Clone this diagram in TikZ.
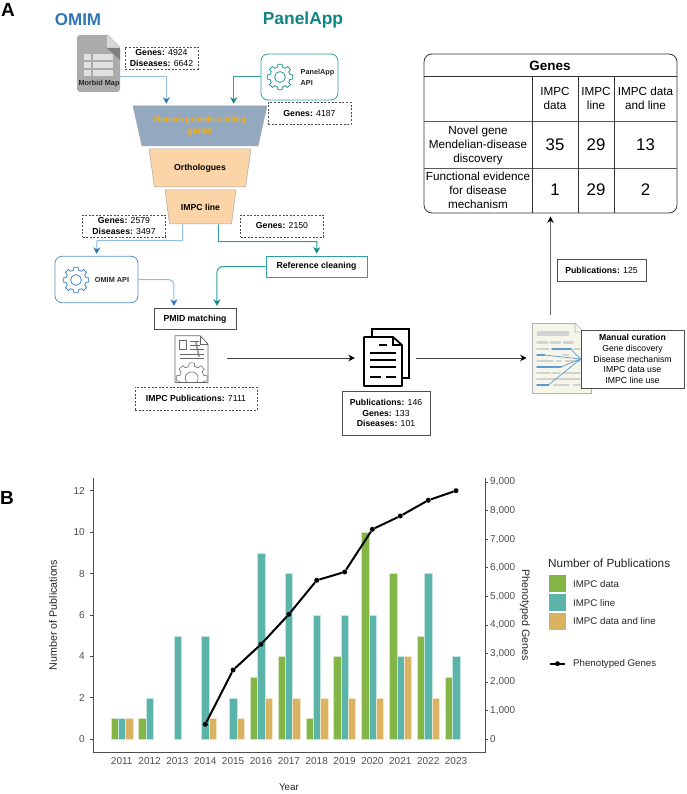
\documentclass[tikz,border=0pt]{standalone}
\usepackage{fontspec}
\setmainfont{Liberation Sans}
\usetikzlibrary{arrows.meta,shapes.geometric}

\definecolor{omimblue}{HTML}{2E75B6}
\definecolor{omimlight}{HTML}{8FBDE3}
\definecolor{panelteal}{HTML}{0E8686}
\definecolor{panellight}{HTML}{2F9E9E}
\definecolor{funnelblue}{HTML}{94A8C0}
\definecolor{funnelpeach}{HTML}{FBD4A8}
\definecolor{funneltext}{HTML}{F2B21B}
\definecolor{morbidgray}{HTML}{ABABAB}
\definecolor{bargreen}{HTML}{84B547}
\definecolor{barteal}{HTML}{5AB4AA}
\definecolor{bartan}{HTML}{D9B262}
\definecolor{axisgray}{HTML}{4D4D4D}
\definecolor{paper}{HTML}{F6F5E9}
\definecolor{rowgray}{HTML}{D2D2D2}
\definecolor{rowblue}{HTML}{5B9BD0}

\tikzset{
  small/.style={font=\fontsize{8.7}{10.7}\selectfont, align=center, inner sep=0},
  tiny/.style={font=\fontsize{7.3}{10.7}\selectfont\bfseries, align=left, inner sep=0},
  countbox/.style={small, draw=axisgray, line width=0.7, dash pattern=on 2pt off 1.6pt},
  infobox/.style={small, draw=axisgray, line width=0.9, fill=white},
  apibox/.style={draw, line width=0.8, rounded corners=7, inner sep=0},
  funnel/.style={small, trapezium, trapezium stretches=true, shape border rotate=180, draw=black!35, line width=0.5, font=\fontsize{8.7}{10.7}\selectfont\bfseries},
  omimarrow/.style={draw=omimlight, line width=1, -{Stealth[length=6.5pt,width=7pt,color=omimblue]}, shorten >=2pt},
  panelarrow/.style={draw=panellight, line width=1, -{Stealth[length=6.5pt,width=7pt,color=panelteal]}, shorten >=2pt},
  flowarrow/.style={draw=black!75, line width=0.9, -{Stealth[length=6.5pt,width=6.5pt,color=black]}},
  iconspace/.style={inner sep=0},
  headtext/.style={font=\fontsize{11.7}{14}\selectfont, align=center, inner sep=0},
  bigtext/.style={font=\fontsize{16.8}{18}\selectfont, inner sep=0},
  ticktext/.style={font=\fontsize{10}{12}\selectfont, text=axisgray, inner sep=0},
  axistext/.style={font=\fontsize{10.7}{12}\selectfont, text=black!85, inner sep=0},
  legendtext/.style={font=\fontsize{9.7}{12}\selectfont, text=black!85, inner sep=0, anchor=west},
  axisline/.style={draw=axisgray, line width=1},
  bar1/.style={fill=bargreen, draw=bargreen!35!white, line width=0.3},
  bar2/.style={fill=barteal, draw=barteal!35!white, line width=0.3},
  bar3/.style={fill=bartan, draw=bartan!35!white, line width=0.3},
  swatch/.style={minimum width=17, minimum height=17.5, inner sep=0},
  genedot/.style={circle, fill=black, inner sep=0, minimum size=5},
  geneline/.style={draw=black, line width=2},
  rowline/.style={draw=rowgray, line width=2.5, line cap=round},
  rowlink/.style={draw=rowblue, line width=2.5, line cap=round},
  gearicon/.pic={
    \foreach \a in {0,45,...,315} {
      \draw[line join=round] (\a-14:10.2) -- (\a-9:13) -- (\a+9:13) -- (\a+14:10.2) -- (\a+31:10.2);
    }
    \draw (0,0) circle (5.4);
  }
}

\begin{document}
\begin{tikzpicture}[x=1pt, y=-1pt]
    \useasboundingbox (0, 0) rectangle (686, 794);

    \node [font=\fontsize{19}{20}\selectfont\bfseries, inner sep=0] (panela) at (8, 10) {A};
    \node [font=\fontsize{17}{18}\selectfont\bfseries, text=omimblue, inner sep=0] (omim) at (78, 19.5) {OMIM};
    \node [font=\fontsize{17.4}{18}\selectfont\bfseries, text=panelteal, inner sep=0] (panel) at (303, 20) {PanelApp};

    \node [fill=morbidgray, rounded corners=3, minimum width=43, minimum height=57, inner sep=0] (morbid) at (98.5, 63.5) {};
    \fill[white] (107, 34) -- (121, 34) -- (121, 48) -- cycle;
    \fill[black!15] (107, 35) -- (120, 48) -- (107, 48) -- cycle;
    \fill[black!50] (107, 48) -- (120, 48) -- (120, 60) -- cycle;
    \fill[black!12] (84, 54.5) rectangle (91, 60);
    \fill[black!12] (93, 54.5) rectangle (112.5, 60);
    \fill[black!12] (84, 62) rectangle (91, 68);
    \fill[black!12] (93, 62) rectangle (112.5, 68);
    \fill[black!12] (84, 70) rectangle (91, 76);
    \fill[black!12] (93, 70) rectangle (112.5, 76);
    \node [tiny, text=black!85] (morbidtext) at (99, 84) {Morbid Map};

    \node [countbox, minimum width=73, minimum height=22] (count1) at (161.5, 58) {\textbf{Genes:} 4924\\\textbf{Diseases:} 6642};

    \node [apibox, draw=panellight, minimum width=77, minimum height=46] (panelapi) at (299.5, 77) {};
    \pic [color=panelteal, line width=0.7] (gear1) at (280, 77) {gearicon};
    \node [tiny, text=black!85, anchor=west] (panelapitext) at (300.5, 77.5) {PanelApp\\API};
    \node [countbox, minimum width=83, minimum height=22] (count2) at (309.5, 113.5) {\textbf{Genes:} 4187};

    \node [funnel, fill=funnelblue, text=funneltext, minimum width=134, minimum height=40, trapezium angle=69.4] (human) at (200, 126) {Human protein coding\\genes};
    \node [funnel, fill=funnelpeach, minimum width=102, minimum height=38, trapezium angle=69.8] (ortho) at (200, 168) {Orthologues};
    \node [funnel, fill=funnelpeach, minimum width=71, minimum height=34, trapezium angle=66.2] (impc) at (200.5, 207) {IMPC line};

    \draw[omimarrow] (morbid.-31) -| (human.149);
    \draw[panelarrow] (panelapi.west) -| (human.31);

    \node [countbox, minimum width=83, minimum height=22] (count3) at (124, 226) {\textbf{Genes:} 2579\\\textbf{Diseases:} 3497};
    \node [countbox, minimum width=83, minimum height=22] (count4) at (282, 226) {\textbf{Genes:} 2150};

    \node [apibox, draw=omimblue!80, minimum width=83, minimum height=46.5] (omimapi) at (96.5, 279.5) {};
    \pic [color=omimblue, line width=0.7] (gear2) at (76, 280) {gearicon};
    \node [tiny, text=black!85] (omimapitext) at (112, 280) {OMIM API};

    \node [small, draw=panellight, line width=0.9, font=\fontsize{8.7}{10.7}\selectfont\bfseries, minimum width=101, minimum height=21] (cleaning) at (316.5, 266.5) {Reference cleaning};
    \node [small, draw=axisgray, line width=0.9, font=\fontsize{8.7}{10.7}\selectfont\bfseries, minimum width=82, minimum height=21.5] (pmid) at (195, 319) {PMID matching};

    \coordinate (bend1) at (97, 240.5);
    \coordinate (bend2) at (317, 241.5);
    \draw[omimarrow] (impc.-136) |- (bend1) -- (omimapi.north);
    \draw[panelarrow] (impc.-44) |- (bend2) -- (cleaning.north);
    \draw[omimarrow, rounded corners=6] (omimapi.east) -| (pmid.152);
    \draw[panelarrow, rounded corners=6] (cleaning.west) -| (pmid.27);

    \node [iconspace, minimum width=33, minimum height=48] (impcdoc) at (191.5, 358) {};
    \begin{scope}
      \clip (175, 335.7) -- (200, 335.7) -- (208, 344) -- (208, 382.5) -- (175, 382.5) -- cycle;
      \draw[black!35, line width=2] (196, 342) -- (199, 357);
      \draw[black!60, line width=0.6] (179.5, 354) -- (204, 354);
      \draw[black!60, line width=0.6] (179.5, 358) -- (204, 358);
      \pic [color=black!60, line width=0.6, scale=1.2] (gear3) at (191.7, 378.3) {gearicon};
    \end{scope}
    \draw[black!60, line width=0.8] (175, 335.7) -- (200, 335.7) -- (208, 344) -- (208, 382.5) -- (175, 382.5) -- cycle;
    \draw[black!60, line width=0.6] (200, 335.7) -- (200, 344) -- (208, 344);
    \draw[black!60, line width=0.6] (179.5, 340.7) rectangle (186, 349);
    \draw[black!60, line width=0.6] (190, 341.7) -- (199, 341.7);
    \draw[black!60, line width=0.6] (190, 345) -- (200, 345);
    \draw[black!60, line width=0.6] (190, 349.3) -- (204, 349.3);
    \node [countbox, minimum width=122, minimum height=23] (count5) at (196, 398.5) {\textbf{IMPC Publications:} 7111};

    \node [iconspace, minimum width=45, minimum height=58] (docs) at (386.5, 358) {};
    \draw[black, line width=1.8] (372, 337) -- (372, 329) -- (409, 329) -- (409, 378) -- (402, 378);
    \draw[black, line width=1.8, fill=white, line join=round] (364, 337) -- (393, 337) -- (402, 345) -- (402, 386) -- (364, 386) -- cycle;
    \draw[black, line width=1.4] (393, 337) -- (393, 345) -- (402, 345);
    \draw[black, line width=1.8] (379, 345) -- (387, 345);
    \draw[black, line width=1.8] (370, 353) -- (396, 353);
    \draw[black, line width=1.8] (370, 360) -- (396, 360);
    \draw[black, line width=1.8] (370, 367) -- (396, 367);
    \draw[black, line width=1.8] (370, 377) -- (381, 377);
    \draw[black, line width=1.8] (386, 377) -- (396, 377);
    \node [infobox, minimum width=88, minimum height=44] (count6) at (386, 413) {\textbf{Publications:} 146\\\textbf{Genes:} 133\\\textbf{Diseases:} 101};

    \node [draw=black!30, fill=paper, line width=0.6, minimum width=59, minimum height=70, inner sep=0] (curdoc) at (561.5, 358) {};
    \fill[white] (575, 322.5) -- (592, 322.5) -- (592, 340) -- cycle;
    \draw[black!30, line width=0.6] (575, 323) -- (575, 332) -- (584, 332) -- cycle;
    \draw[rowgray, line width=4.5] (537.3, 333.7) -- (568.7, 333.7);
    \draw[rowline] (537.3, 342.7) -- (547.3, 342.7);
    \draw[rowline] (550.7, 342.7) -- (560, 342.7);
    \draw[rowline] (564, 342.7) -- (572.7, 342.7);
    \draw[rowline] (537.3, 349) -- (548.3, 349);
    \draw[rowline] (574, 349) -- (580, 349);
    \draw[rowline] (563.3, 355) -- (568.3, 355);
    \draw[rowline] (537.3, 361) -- (552.7, 361);
    \draw[rowline] (556.7, 361) -- (560.7, 361);
    \draw[rowline] (566, 361) -- (580, 361);
    \draw[rowline] (537.3, 373) -- (550, 373);
    \draw[rowline] (552.7, 373) -- (560, 373);
    \draw[rowline] (563.3, 373) -- (580, 373);
    \draw[rowline] (537.3, 379) -- (580, 379);
    \draw[rowline] (554, 385) -- (568.3, 385);
    \draw[rowline] (574, 385) -- (580, 385);
    \draw[rowlink] (552.3, 349) -- (570.7, 349);
    \draw[rowlink] (537.3, 355) -- (544.3, 355);
    \draw[rowlink] (537.3, 367) -- (560.7, 367);
    \draw[rowlink] (537.3, 385) -- (548.3, 385);
    \node [infobox, minimum width=103, minimum height=58] (curation) at (632.5, 359) {\textbf{Manual curation}\\Gene discovery\\Disease mechanism\\IMPC data use\\IMPC line use};
    \draw[rowblue, line width=0.7] (570.7, 349) -- (curation.west);
    \draw[rowblue, line width=0.7] (544.3, 355) -- (curation.west);
    \draw[rowblue, line width=0.7] (560.7, 367) -- (curation.west);
    \draw[rowblue, line width=0.7] (548.3, 385) -- (curation.west);

    \draw[flowarrow, shorten <=19pt, shorten >=9pt] (impcdoc.east) -- (docs.west);
    \draw[flowarrow, shorten <=7pt, shorten >=5pt] (docs.east) -- (curdoc.west);

    \node [draw=black!80, line width=0.8, rounded corners=8, minimum width=253, minimum height=159, inner sep=0] (genes) at (550.5, 133.5) {};
    \draw[flowarrow, draw=black!60, shorten <=8pt, shorten >=3pt] (genes.south |- curdoc.north) -- (genes.south);
    \node [infobox, minimum width=89, minimum height=22] (count7) at (601.5, 270) {\textbf{Publications:} 125};

    \draw[black!80, line width=0.7] (424, 76) -- (677, 76);
    \draw[black!65, line width=0.7] (424, 121) -- (677, 121);
    \draw[black!65, line width=0.7] (424, 168) -- (677, 168);
    \draw[black!80, line width=0.7] (532, 76) -- (532, 213);
    \draw[black!80, line width=0.7] (578, 76) -- (578, 213);
    \draw[black!80, line width=0.7] (614, 76) -- (614, 213);
    \node [font=\fontsize{13.5}{14}\selectfont\bfseries, inner sep=0] (genestitle) at (550, 66) {Genes};
    \node [headtext] (head1) at (555, 98.5) {IMPC\\data};
    \node [headtext] (head2) at (596, 98.5) {IMPC\\line};
    \node [headtext] (head3) at (645.5, 98.5) {IMPC data\\and line};
    \node [headtext] (row1) at (478, 145) {Novel gene\\Mendelian-disease\\discovery};
    \node [headtext] (row2) at (478, 190) {Functional evidence\\for disease\\mechanism};
    \node [bigtext] (val11) at (555, 145) {35};
    \node [bigtext] (val12) at (596, 145) {29};
    \node [bigtext] (val13) at (645.5, 145) {13};
    \node [bigtext] (val21) at (555, 190) {1};
    \node [bigtext] (val22) at (596, 190) {29};
    \node [bigtext] (val23) at (645.5, 190) {2};

    \node [font=\fontsize{19}{20}\selectfont\bfseries, inner sep=0] (panelb) at (7, 498) {B};

    \begin{scope}[shift={(121.7, 739.3)}, x=27.86pt, y=20.72pt]
      \draw[bar1] (-0.393, 0) rectangle +(0.262, 1);
      \draw[bar2] (-0.131, 0) rectangle +(0.262, 1);
      \draw[bar3] (0.131, 0) rectangle +(0.262, 1);
      \draw[bar1] (0.607, 0) rectangle +(0.262, 1);
      \draw[bar2] (0.869, 0) rectangle +(0.262, 2);
      \draw[bar2] (1.869, 0) rectangle +(0.262, 5);
      \draw[bar2] (2.869, 0) rectangle +(0.262, 5);
      \draw[bar3] (3.131, 0) rectangle +(0.262, 1);
      \draw[bar2] (3.869, 0) rectangle +(0.262, 2);
      \draw[bar3] (4.131, 0) rectangle +(0.262, 1);
      \draw[bar1] (4.607, 0) rectangle +(0.262, 3);
      \draw[bar2] (4.869, 0) rectangle +(0.262, 9);
      \draw[bar3] (5.131, 0) rectangle +(0.262, 2);
      \draw[bar1] (5.607, 0) rectangle +(0.262, 4);
      \draw[bar2] (5.869, 0) rectangle +(0.262, 8);
      \draw[bar3] (6.131, 0) rectangle +(0.262, 2);
      \draw[bar1] (6.607, 0) rectangle +(0.262, 1);
      \draw[bar2] (6.869, 0) rectangle +(0.262, 6);
      \draw[bar3] (7.131, 0) rectangle +(0.262, 2);
      \draw[bar1] (7.607, 0) rectangle +(0.262, 4);
      \draw[bar2] (7.869, 0) rectangle +(0.262, 6);
      \draw[bar3] (8.131, 0) rectangle +(0.262, 2);
      \draw[bar1] (8.607, 0) rectangle +(0.262, 10);
      \draw[bar2] (8.869, 0) rectangle +(0.262, 6);
      \draw[bar3] (9.131, 0) rectangle +(0.262, 2);
      \draw[bar1] (9.607, 0) rectangle +(0.262, 8);
      \draw[bar2] (9.869, 0) rectangle +(0.262, 4);
      \draw[bar3] (10.131, 0) rectangle +(0.262, 4);
      \draw[bar1] (10.607, 0) rectangle +(0.262, 5);
      \draw[bar2] (10.869, 0) rectangle +(0.262, 8);
      \draw[bar3] (11.131, 0) rectangle +(0.262, 2);
      \draw[bar1] (11.607, 0) rectangle +(0.262, 3);
      \draw[bar2] (11.869, 0) rectangle +(0.262, 4);
    \end{scope}

    \draw[axisline] (93, 478) -- (93, 752) -- (485, 752) -- (485, 478);
    \draw[axisline] (89.5, 739.3) -- (93, 739.3) (89.5, 697.9) -- (93, 697.9) (89.5, 656.4) -- (93, 656.4) (89.5, 615) -- (93, 615) (89.5, 573.6) -- (93, 573.6) (89.5, 532.1) -- (93, 532.1) (89.5, 490.7) -- (93, 490.7);
    \draw[axisline] (485, 739.3) -- (488, 739.3) (485, 710.7) -- (488, 710.7) (485, 682.1) -- (488, 682.1) (485, 653.6) -- (488, 653.6) (485, 625) -- (488, 625) (485, 596.4) -- (488, 596.4) (485, 567.8) -- (488, 567.8) (485, 539.2) -- (488, 539.2) (485, 510.7) -- (488, 510.7) (485, 482.1) -- (488, 482.1);

    \node [ticktext, anchor=east] (l0) at (85, 739.3) {0};
    \node [ticktext, anchor=east] (l2) at (85, 697.9) {2};
    \node [ticktext, anchor=east] (l4) at (85, 656.4) {4};
    \node [ticktext, anchor=east] (l6) at (85, 615) {6};
    \node [ticktext, anchor=east] (l8) at (85, 573.6) {8};
    \node [ticktext, anchor=east] (l10) at (85, 532.1) {10};
    \node [ticktext, anchor=east] (l12) at (85, 490.7) {12};

    \node [ticktext, anchor=west] (r0) at (490, 739.3) {0};
    \node [ticktext, anchor=west] (r1) at (490, 710.7) {1,000};
    \node [ticktext, anchor=west] (r2) at (490, 682.1) {2,000};
    \node [ticktext, anchor=west] (r3) at (490, 653.6) {3,000};
    \node [ticktext, anchor=west] (r4) at (490, 625) {4,000};
    \node [ticktext, anchor=west] (r5) at (490, 596.4) {5,000};
    \node [ticktext, anchor=west] (r6) at (490, 567.8) {6,000};
    \node [ticktext, anchor=west] (r7) at (490, 539.2) {7,000};
    \node [ticktext, anchor=west] (r8) at (490, 510.7) {8,000};
    \node [ticktext, anchor=west] (r9) at (490, 482.1) {9,000};

    \node [ticktext] (x11) at (121.7, 761) {2011};
    \node [ticktext] (x12) at (149.6, 761) {2012};
    \node [ticktext] (x13) at (177.4, 761) {2013};
    \node [ticktext] (x14) at (205.3, 761) {2014};
    \node [ticktext] (x15) at (233.1, 761) {2015};
    \node [ticktext] (x16) at (261, 761) {2016};
    \node [ticktext] (x17) at (288.9, 761) {2017};
    \node [ticktext] (x18) at (316.7, 761) {2018};
    \node [ticktext] (x19) at (344.6, 761) {2019};
    \node [ticktext] (x20) at (372.4, 761) {2020};
    \node [ticktext] (x21) at (400.3, 761) {2021};
    \node [ticktext] (x22) at (428.2, 761) {2022};
    \node [ticktext] (x23) at (456, 761) {2023};

    \node [axistext, font=\fontsize{9.8}{12}\selectfont] (xtitle) at (289, 787.5) {Year};
    \node [axistext, rotate=90] (ytitle) at (53, 615) {Number of Publications};
    \node [axistext, rotate=-90] (ytitle2) at (525, 615) {Phenotyped Genes};

    \node [genedot] (y14) at (205.3, 724.3) {};
    \node [genedot] (y15) at (233.1, 670) {};
    \node [genedot] (y16) at (261, 644.3) {};
    \node [genedot] (y17) at (288.9, 614.3) {};
    \node [genedot] (y18) at (316.7, 580.3) {};
    \node [genedot] (y19) at (344.6, 572) {};
    \node [genedot] (y20) at (372.4, 529.3) {};
    \node [genedot] (y21) at (400.3, 516) {};
    \node [genedot] (y22) at (428.2, 500.3) {};
    \node [genedot] (y23) at (456, 490.7) {};
    \draw[geneline] (y14) -- (y15);
    \draw[geneline] (y15) -- (y16);
    \draw[geneline] (y16) -- (y17);
    \draw[geneline] (y17) -- (y18);
    \draw[geneline] (y18) -- (y19);
    \draw[geneline] (y19) -- (y20);
    \draw[geneline] (y20) -- (y21);
    \draw[geneline] (y21) -- (y22);
    \draw[geneline] (y22) -- (y23);

    \node [font=\fontsize{11.8}{14}\selectfont, text=black!85, inner sep=0, anchor=west] (legtitle) at (548, 563) {Number of Publications};
    \node [swatch, fill=bargreen] (leg1) at (557.5, 583.5) {};
    \node [swatch, fill=barteal] (leg2) at (557.5, 602.5) {};
    \node [swatch, fill=bartan] (leg3) at (557.5, 621.5) {};
    \node [legendtext] (legtext1) at (573, 584) {IMPC data};
    \node [legendtext] (legtext2) at (573, 603) {IMPC line};
    \node [legendtext] (legtext3) at (573, 621.5) {IMPC data and line};
    \node [genedot] (legdot) at (557.5, 663.7) {};
    \coordinate (legstart) at (550, 663.7);
    \coordinate (legend) at (565, 663.7);
    \draw[geneline] (legstart) -- (legend);
    \node [legendtext] (legtext4) at (573, 663.7) {Phenotyped Genes};

\end{tikzpicture}
\end{document}
